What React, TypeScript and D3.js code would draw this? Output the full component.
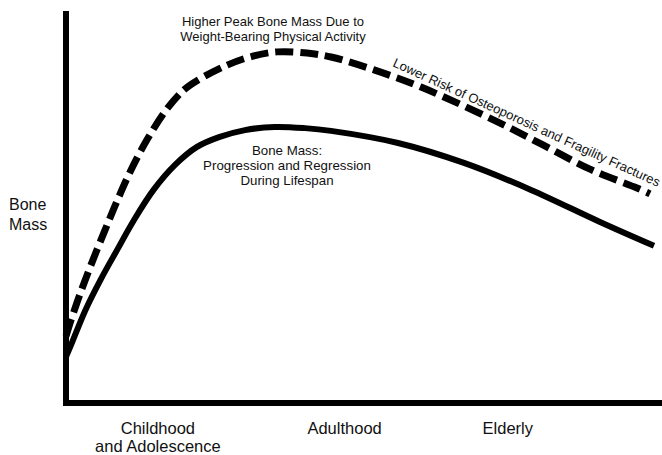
import React from "react";
import * as d3 from "d3";

// Abstract units: age (0-100 across the lifespan), bone mass (0-100)
const solidAges = [0, 1.19, 3.31, 5.86, 8.66, 11.55, 14.86, 18.51, 22.24, 25.98, 30.39, 35.48, 40.58, 44.99, 56.37, 67.57, 78.95, 90.66, 99.83];
const solidMass = [11.8, 16.1, 23.8, 31.5, 39.1, 46.8, 54.5, 60.9, 65.5, 68.0, 69.8, 70.6, 70.3, 69.6, 66.5, 61.4, 54.5, 46.3, 40.2];

const dashedAges = [0, 0.85, 2.63, 4.58, 6.62, 8.74, 11.04, 13.75, 16.98, 20.03, 22.41, 27.33, 31.24, 35.82, 40.92, 45.0, 52.29, 60.27, 73.0, 80.98, 88.96, 96.94, 99.15];
const dashedMass = [17.1, 21.2, 28.9, 36.6, 44.2, 51.9, 59.6, 67.3, 74.9, 80.1, 82.6, 86.4, 88.5, 89.8, 89.5, 88.5, 85.2, 80.8, 72.1, 66.0, 59.8, 55.0, 53.5];

const stageLabels = [["Childhood", "and Adolescence"], ["Adulthood"], ["Elderly"]];
const stageAges = [15.6, 47.3, 75.0];

const yAxisLabel = ["Bone", "Mass"];
const peakLabel = ["Higher Peak Bone Mass Due to", "Weight-Bearing Physical Activity"];
const curveLabel = ["Bone Mass:", "Progression and Regression", "During Lifespan"];
const riskLabel = "Lower Risk of Osteoporosis and Fragility Fractures";

const W = 662;
const H = 455;
const FONT = "'Liberation Sans', Arial, Helvetica, sans-serif";

export default function App() {
  const x = d3.scaleLinear().domain([0, 100]).range([66, 655]);
  const y = d3.scaleLinear().domain([0, 100]).range([403, 12]);

  const line = d3
    .line<[number, number]>()
    .x((d) => x(d[0]))
    .y((d) => y(d[1]))
    .curve(d3.curveCatmullRom.alpha(0.5));

  const solidPts = solidAges.map((a, i) => [a, solidMass[i]] as [number, number]);
  const dashedPts = dashedAges.map((a, i) => [a, dashedMass[i]] as [number, number]);

  const axisPath = `M${x(0)},${y(100) - 1} V${y(0)} H${W}`;

  return (
    <svg
      width={W}
      height={H}
      style={{ position: "absolute", left: 0, top: 0, background: "#fff" }}
      fontFamily={FONT}
    >
      <rect width={W} height={H} fill="#fff" />
      <path d={line(dashedPts) || ""} fill="none" stroke="#000" strokeWidth={7} strokeDasharray="18 7" />
      <path d={line(solidPts) || ""} fill="none" stroke="#000" strokeWidth={6} />
      <path d={axisPath} fill="none" stroke="#000" strokeWidth={6} strokeLinejoin="miter" />

      {yAxisLabel.map((t, i) => (
        <text key={t} x={9} y={210 + i * 20} fontSize={16} fill="#111">
          {t}
        </text>
      ))}

      {stageLabels.map((lines, i) =>
        lines.map((t, j) => (
          <text
            key={t}
            x={x(stageAges[i])}
            y={434 + j * 18}
            fontSize={16.5}
            textAnchor="middle"
            fill="#111"
          >
            {t}
          </text>
        ))
      )}

      {peakLabel.map((t, i) => (
        <text key={t} x={273} y={26 + i * 15} fontSize={13} textAnchor="middle" fill="#111">
          {t}
        </text>
      ))}

      {curveLabel.map((t, i) => (
        <text key={t} x={287} y={155 + i * 15} fontSize={13.3} textAnchor="middle" fill="#111">
          {t}
        </text>
      ))}

      <text
        x={0}
        y={0}
        fontSize={13}
        fill="#111"
        transform={`translate(392,66) rotate(24.5)`}
      >
        {riskLabel}
      </text>
    </svg>
  );
}
